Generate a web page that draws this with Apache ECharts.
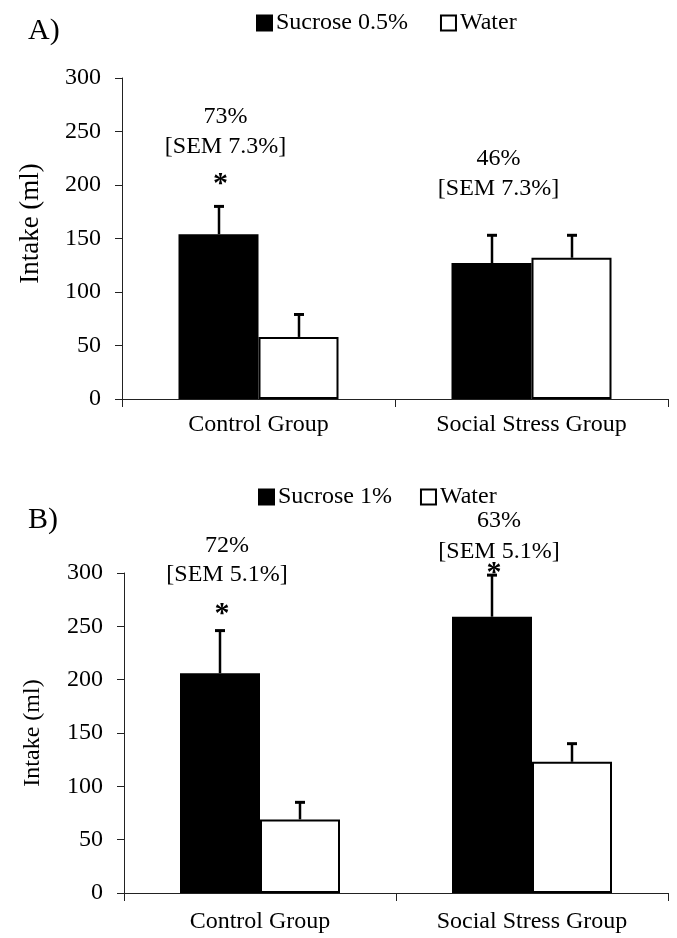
<!DOCTYPE html>
<html>
<head>
<meta charset="utf-8">
<script src="https://cdn.jsdelivr.net/npm/echarts@6/dist/echarts.min.js"></script>
<style>
html,body{margin:0;padding:0;background:#fff;}
#c{width:677px;height:938px;}
</style>
</head>
<body>
<div id="c"></div>
<script>
// ---- data ----
const categories = ['Control Group', 'Social Stress Group'];

const sucroseA = [154, 127];
const sucroseAErr = [26, 26];
const waterA = [58, 132];
const waterAErr = [21, 21];

const sucroseB = [206, 259];
const sucroseBErr = [40, 39];
const waterB = [69, 123];
const waterBErr = [16, 17];

const pctA = ['73%', '46%'];
const semA = ['[SEM 7.3%]', '[SEM 7.3%]'];
const starA = [true, false];

const pctB = ['72%', '63%'];
const semB = ['[SEM 5.1%]', '[SEM 5.1%]'];
const starB = [true, true];

// annotation label heights (axis units)
const annoPosA = {pct: [264, 225], sem: [236, 197], star: [206, null]};
const annoPosB = {pct: [326, 349], sem: [298, 320], star: [267, 305]};

// ---- style ----
const FONT = "'Liberation Serif', 'Times New Roman', serif";
const BAR_W = 80;

function errSeries(g, values, errs, dir) {
  return {
    type: 'custom', xAxisIndex: g, yAxisIndex: g, z: 5, silent: true,
    data: values.map((v, i) => [i, v, errs[i]]),
    encode: {x: 0, y: 1},
    renderItem: function (params, api) {
      const cat = api.value(0), v = api.value(1), e = api.value(2);
      const b = api.coord([cat, v]);
      const t = api.coord([cat, v + e]);
      const x = Math.round(b[0] + dir * BAR_W / 2);
      return {type: 'group', children: [
        {type: 'line', shape: {x1: x, y1: b[1], x2: x, y2: t[1]}, style: {stroke: '#000', lineWidth: 2.5}},
        {type: 'line', shape: {x1: x - 5, y1: t[1], x2: x + 5, y2: t[1]}, style: {stroke: '#000', lineWidth: 3}}
      ]};
    }
  };
}

function annoSeries(g, pct, sem, star, pos) {
  return {
    type: 'custom', xAxisIndex: g, yAxisIndex: g, z: 6, silent: true, clip: false,
    data: categories.map((c, i) => [i, pos.sem[i]]),
    encode: {x: 0, y: 1},
    renderItem: function (params, api) {
      const i = params.dataIndex;
      const cx = api.coord([i, 0])[0] - BAR_W / 2;
      const children = [];
      const pP = api.coord([i, pos.pct[i]]);
      const pS = api.coord([i, pos.sem[i]]);
      children.push({type: 'text', x: cx + 7, y: pP[1],
        style: {text: pct[i], fontSize: 24, fontFamily: FONT, fill: '#000', align: 'center', verticalAlign: 'middle'}});
      children.push({type: 'text', x: cx + 7, y: pS[1],
        style: {text: sem[i], fontSize: 24, fontFamily: FONT, fill: '#000', align: 'center', verticalAlign: 'middle'}});
      if (star[i]) {
        const pA = api.coord([i, pos.star[i]]);
        children.push({type: 'text', x: cx + 2, y: pA[1] + 6,
          style: {text: '*', fontSize: 30, fontWeight: 'bold', fontFamily: FONT, fill: '#000', align: 'center', verticalAlign: 'middle'}});
      }
      return {type: 'group', children: children};
    }
  };
}

function yAxisCfg(g, nameSize, pad, gap) {
  return {
    type: 'value', gridIndex: g, min: 0, max: 300, interval: 50,
    name: 'Intake (ml)', nameLocation: 'middle', nameGap: gap,
    nameTextStyle: {fontSize: nameSize, fontFamily: FONT, color: '#000', padding: pad},
    axisLine: {show: true, lineStyle: {color: '#222', width: 1}},
    axisTick: {show: true, length: 7, lineStyle: {color: '#222'}},
    axisLabel: {fontSize: 24, fontFamily: FONT, color: '#000', margin: 21},
    splitLine: {show: false}
  };
}

function xAxisCfg(g, margin) {
  return {
    type: 'category', gridIndex: g, data: categories,
    axisLine: {lineStyle: {color: '#222', width: 1}},
    axisTick: {show: true, length: 8, lineStyle: {color: '#222'}},
    axisLabel: {fontSize: 24, fontFamily: FONT, color: '#000', margin: margin}
  };
}

const blackStyle = {color: '#000', borderColor: '#000', borderWidth: 2};
const whiteStyle = {color: '#fff', borderColor: '#000', borderWidth: 2};

const option = {
  animation: false,
  backgroundColor: '#fff',
  textStyle: {fontFamily: FONT},
  title: [
    {text: 'A)', left: 28, top: 16, padding: 0, textStyle: {fontSize: 30, fontWeight: 'normal', fontFamily: FONT, color: '#000'}},
    {text: 'B)', left: 28, top: 505, padding: 0, textStyle: {fontSize: 30, fontWeight: 'normal', fontFamily: FONT, color: '#000'}}
  ],
  legend: [
    {left: 256, top: 11, padding: 0, itemWidth: 15, itemHeight: 15, itemGap: 32, icon: 'rect',
     textStyle: {fontSize: 24, fontFamily: FONT, color: '#000', padding: [0, 0, 0, -1]},
     data: [{name: 'Sucrose 0.5%', itemStyle: blackStyle}, {name: 'Water', itemStyle: whiteStyle}]},
    {left: 258, top: 485, padding: 0, itemWidth: 15, itemHeight: 15, itemGap: 28, icon: 'rect',
     textStyle: {fontSize: 24, fontFamily: FONT, color: '#000', padding: [0, 0, 0, -1]},
     data: [{name: 'Sucrose 1%', itemStyle: blackStyle}, {name: 'Water', itemStyle: whiteStyle}]}
  ],
  grid: [
    {left: 122, top: 78, width: 546, height: 321, containLabel: false},
    {left: 124, top: 573, width: 544, height: 320, containLabel: false}
  ],
  xAxis: [xAxisCfg(0, 14), xAxisCfg(1, 17)],
  yAxis: [yAxisCfg(0, 27, [0, 0, 0, 30], 78), yAxisCfg(1, 24, 0, 79)],
  series: [
    {name: 'Sucrose 0.5%', type: 'bar', xAxisIndex: 0, yAxisIndex: 0, data: sucroseA, barWidth: BAR_W, barGap: '0%', itemStyle: blackStyle, silent: true},
    {name: 'Water', type: 'bar', xAxisIndex: 0, yAxisIndex: 0, data: waterA, barWidth: BAR_W, barGap: '0%', itemStyle: whiteStyle, silent: true},
    {name: 'Sucrose 1%', type: 'bar', xAxisIndex: 1, yAxisIndex: 1, data: sucroseB, barWidth: BAR_W, barGap: '0%', itemStyle: blackStyle, silent: true},
    {name: 'Water', type: 'bar', xAxisIndex: 1, yAxisIndex: 1, data: waterB, barWidth: BAR_W, barGap: '0%', itemStyle: whiteStyle, silent: true},
    errSeries(0, sucroseA, sucroseAErr, -1),
    errSeries(0, waterA, waterAErr, 1),
    errSeries(1, sucroseB, sucroseBErr, -1),
    errSeries(1, waterB, waterBErr, 1),
    annoSeries(0, pctA, semA, starA, annoPosA),
    annoSeries(1, pctB, semB, starB, annoPosB)
  ]
};

const chart = echarts.init(document.getElementById('c'), null, {renderer: 'canvas'});
chart.setOption(option);
</script>
</body>
</html>
